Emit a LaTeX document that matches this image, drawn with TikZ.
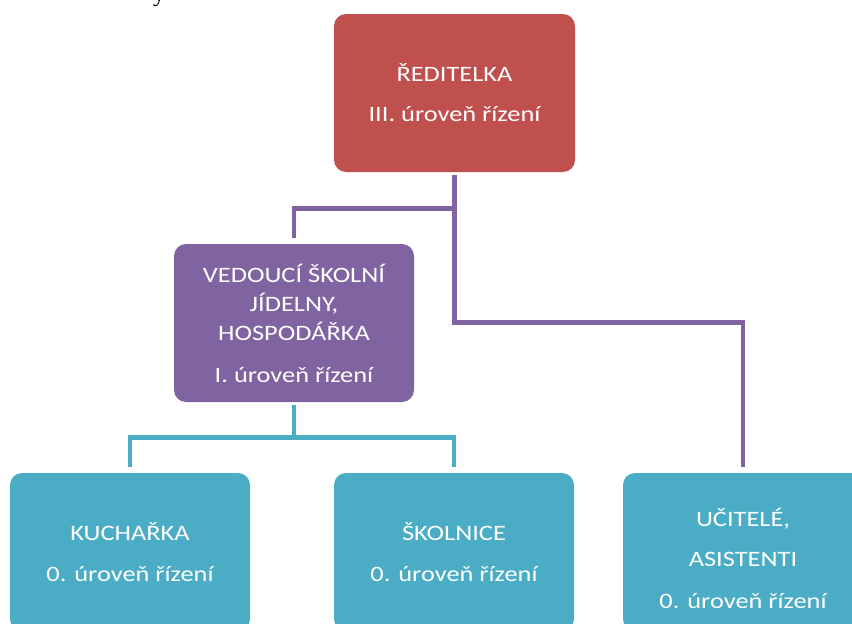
\documentclass[tikz,border=0pt]{standalone}
\usepackage{fontspec}
\setmainfont{Carlito}
\newfontfamily\boxfont[FakeStretch=1.2]{Carlito}
\newfontfamily\serifY{Liberation Serif}
\usetikzlibrary{calc}
\definecolor{cred}{HTML}{C0504D}
\definecolor{cpurple}{HTML}{8064A2}
\definecolor{ccyan}{HTML}{4BACC6}
\tikzset{
  boxtext/.style={align=center, text=white, inner sep=0pt,
    font=\boxfont\fontsize{22}{29}\selectfont},
  orgbox/.style={boxtext, rounded corners=12pt, minimum width=240pt, minimum height=158pt},
  pline/.style={draw=cpurple, line width=4.8pt},
  cline/.style={draw=ccyan, line width=4.8pt}
}
\begin{document}
\begin{tikzpicture}[x=1pt,y=-1pt]
\useasboundingbox (0,0) rectangle (852,624);
\clip (0,0) rectangle (852,624);
\fill[white] (0,0) rectangle (852,624);
\node[anchor=base west, inner sep=0pt, font=\serifY\fontsize{24}{28}\selectfont] (frag) at (153,1) {y};
\node[orgbox, fill=cred, minimum width=241pt] (red) at (454.5,93) {ŘEDITELKA\\[11pt]III. úroveň řízení};
\node[orgbox, fill=cpurple] (purp) at (294,323) {VEDOUCÍ ŠKOLNÍ\\JÍDELNY,\\HOSPODÁŘKA\\[13pt]I. úroveň řízení};
\node[orgbox, fill=ccyan] (kuch) at (130,552) {KUCHAŘKA\\[12pt]0. úroveň řízení};
\node[orgbox, fill=ccyan] (skol) at (454,552) {ŠKOLNICE\\[12pt]0. úroveň řízení};
\node[orgbox, fill=ccyan, label={[boxtext, yshift=-6pt]center:UČITELÉ,\\[11pt]ASISTENTI\\[13pt]0. úroveň řízení}] (ucit) at (743,552) {};
\draw[pline] ($(red.south)+(0,3)$) -- ($(red.south)+(0,150)$) -| ($(ucit.north)+(0,-6)$);
\draw[pline] ($(red.south)+(0,36)$) -| ($(purp.north)+(0,-6)$);
\draw[cline] ($(purp.south)+(0,3)$) -- ($(purp.south)+(0,35.5)$) -| ($(kuch.north)+(0,-6)$);
\draw[cline] ($(purp.south)+(0,35.5)$) -| ($(skol.north)+(0,-6)$);
\end{tikzpicture}
\end{document}
